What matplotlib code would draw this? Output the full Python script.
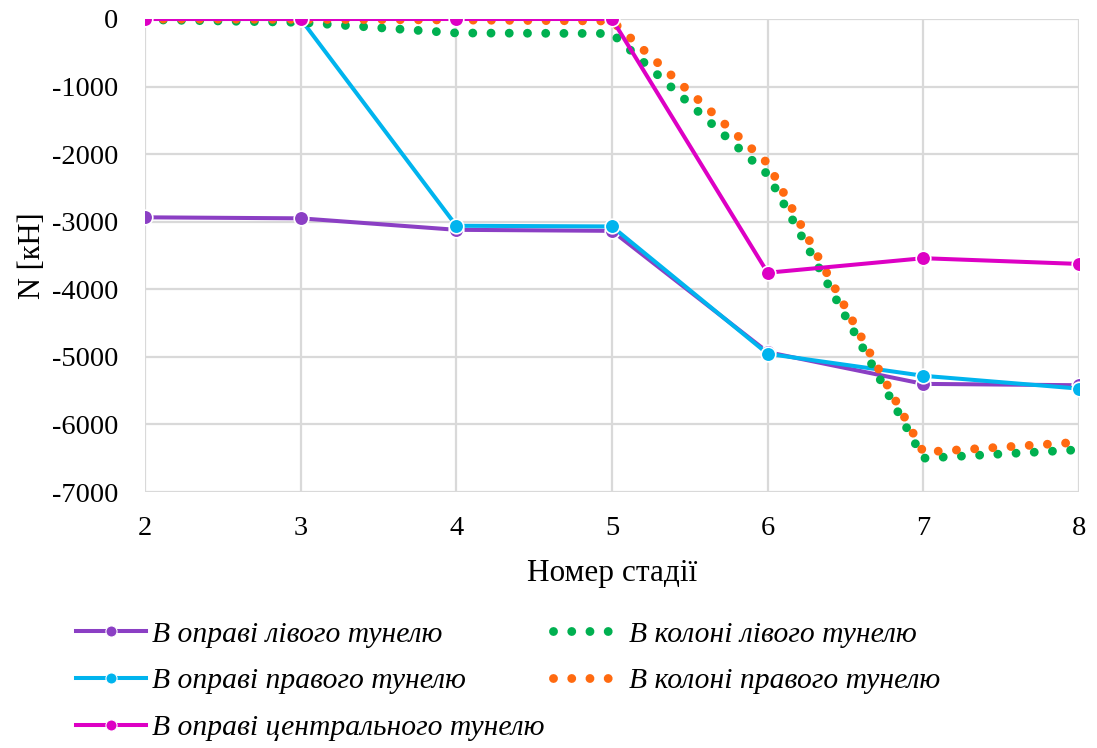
import numpy as np
import matplotlib
matplotlib.use("Agg")
import matplotlib.pyplot as plt
from matplotlib.lines import Line2D

# ---- data ----
stages = [2, 3, 4, 5, 6, 7, 8]
left_lining = [-2935, -2950, -3120, -3135, -4930, -5400, -5420]
right_lining = [0, 0, -3060, -3070, -4955, -5280, -5470]
center_lining = [0, 0, 0, 0, -3755, -3540, -3625]
left_column = [-10, -50, -207, -215, -2300, -6500, -6375]
right_column = [0, -5, -15, -30, -2135, -6410, -6263]

labels = ["В оправі лівого тунелю", "В оправі правого тунелю",
          "В оправі центрального тунелю", "В колоні лівого тунелю",
          "В колоні правого тунелю"]
yticks = [0, -1000, -2000, -3000, -4000, -5000, -6000, -7000]
xlabel = "Номер стадії"
ylabel = "N [кН]"

c_purple = "#8B3FC4"
c_cyan = "#00B4EE"
c_magenta = "#DD00C4"
c_green = "#00B050"
c_orange = "#FF6A10"

plt.rcParams['font.family'] = ['Liberation Serif', 'DejaVu Serif']
plt.rcParams['axes.unicode_minus'] = False

fig = plt.figure(figsize=(10.97, 7.48), dpi=100)
ax = fig.add_axes([145 / 1097, 1 - 492 / 748, (1079 - 145) / 1097, (492 - 19) / 748])

dot_kw = dict(lw=6.4, dashes=(0.001, 2.05), dash_capstyle='round', solid_capstyle='round')
mk_kw = dict(lw=2.9, marker='o', ms=10.5, mec='white', mew=1.2)

ax.plot(stages, left_lining, color=c_purple, zorder=3, **mk_kw)
ax.plot(stages, right_lining, color=c_cyan, zorder=4, **mk_kw)
ax.plot(stages, left_column, color=c_green, zorder=5, **dot_kw)
ax.plot(stages, right_column, color=c_orange, zorder=6, **dot_kw)
ax.plot(stages, center_lining, color=c_magenta, zorder=7, **mk_kw)

ax.set_xlim(2, 8)
ax.set_ylim(-7000, 0)
ax.set_xticks(stages)
ax.set_xticklabels([str(s) for s in stages])
ax.set_yticks(yticks)
ax.set_yticklabels([str(v) for v in yticks])
ax.grid(True, color='#D9D9D9', lw=1.6)
ax.set_axisbelow(True)
for s in ax.spines.values():
    s.set_visible(False)
ax.tick_params(length=0, labelsize=20.5, colors='black')
ax.tick_params(axis='y', pad=19)
ax.tick_params(axis='x', pad=17)
ax.set_xlabel(xlabel, fontsize=22.5, labelpad=13)
ax.set_ylabel(ylabel, fontsize=22, labelpad=4)
for lab in ax.get_xticklabels() + ax.get_yticklabels():
    lab.set_clip_on(False)

hk = dict(lw=2.9, marker='o', ms=8, mec='white', mew=0.8, markevery=[1])
handles = [
    Line2D([], [], color=c_purple, **hk),
    Line2D([], [], color=c_cyan, **hk),
    Line2D([], [], color=c_magenta, **hk),
    Line2D([], [], color=c_green, **dot_kw),
    Line2D([], [], color=c_orange, **dot_kw),
]
leg = fig.legend(handles, labels, ncol=2, loc='center left',
                 bbox_to_anchor=(76 / 1097, 1 - 681 / 748), frameon=False,
                 prop={'style': 'italic', 'size': 21.3}, handlelength=2.35,
                 handletextpad=0.22, columnspacing=0.3, labelspacing=0.67,
                 borderpad=0, borderaxespad=0)

fig.savefig("out.png", dpi=100)
